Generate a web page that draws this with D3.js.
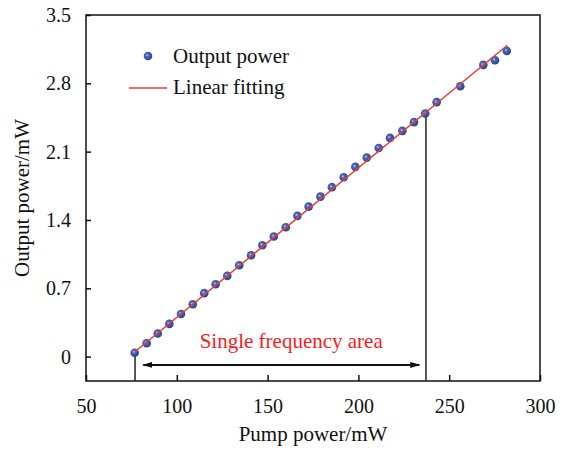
<!DOCTYPE html>
<html>
<head>
<meta charset="utf-8">
<script src="https://cdn.jsdelivr.net/npm/d3@7"></script>
<style>
  body { margin: 0; background: #fff; }
  text { font-family: "Liberation Serif", "Times New Roman", Times, "DejaVu Serif", serif; }
</style>
</head>
<body>
<div id="chartContainer"></div>
<script>
// measured points (pump power in mW, output power in W)
var pumpPower = [76.8, 83.4, 89.5, 95.9, 102.3, 108.8, 115.1, 121.4, 127.8, 134.4, 140.9,
  147.1, 153.4, 160.0, 166.4, 172.6, 179.1, 185.4, 191.9, 198.3, 204.6, 211.2,
  217.4, 224.2, 230.6, 236.8, 243.1, 256.1, 268.8, 275.2, 281.7]
var outputPower = [0.04, 0.137, 0.236, 0.335, 0.437, 0.537, 0.65, 0.742, 0.827, 0.936, 1.039,
  1.141, 1.23, 1.326, 1.442, 1.537, 1.639, 1.736, 1.838, 1.944, 2.039, 2.138,
  2.241, 2.313, 2.402, 2.49, 2.607, 2.77, 2.989, 3.037, 3.132]

// linear fit, end points
var fitPump = [77, 282]
var fitOutput = [0.05, 3.19]

// guide lines and single frequency range
var guidePump = [77, 237.2]
var guideOutput = [0.04, 2.49]
var areaPump = [81.5, 233.5]
var areaOutput = -0.085
var areaLabel = "Single frequency area"

var xTicks = [50, 100, 150, 200, 250, 300]
var yTicks = [0, 0.7, 1.4, 2.1, 2.8, 3.5]
var legendLabels = ["Output power", "Linear fitting"]

var serif = "'Liberation Serif', 'Times New Roman', Times, 'DejaVu Serif', serif"

var margin = {top: 15, right: 29, bottom: 68, left: 86},
  width = 569 - margin.left - margin.right,
  height = 449 - margin.top - margin.bottom;

var svg = d3.select("#chartContainer")
  .append("svg")
  .attr("width", width + margin.left + margin.right)
  .attr("height", height + margin.top + margin.bottom)
  .style("font-family", serif)

var defs = svg.append("defs")
var grad = defs.append("radialGradient")
  .attr("id", "dotFill")
  .attr("cx", "40%").attr("cy", "40%").attr("r", "60%")
grad.append("stop").attr("offset", "0%").attr("stop-color", "#c9d3ee")
grad.append("stop").attr("offset", "30%").attr("stop-color", "#4a68b4")
grad.append("stop").attr("offset", "100%").attr("stop-color", "#27448f")

defs.append("marker")
  .attr("id", "arrow")
  .attr("viewBox", "0 0 10 6")
  .attr("refX", 9).attr("refY", 3)
  .attr("markerWidth", 10).attr("markerHeight", 6)
  .attr("markerUnits", "userSpaceOnUse")
  .attr("orient", "auto-start-reverse")
  .append("path")
  .attr("d", "M0,0L10,3L0,6Z")
  .attr("fill", "#111")

var g = svg.append("g")
  .attr("transform", "translate(" + margin.left + "," + margin.top + ")")

var x = d3.scaleLinear()
  .domain([50, 300])
  .range([0, width])

var y = d3.scaleLinear()
  .domain([-0.25, 3.5])
  .range([height, 0])

// axes, ticks pointing inward
var xAxis = g.append("g")
  .attr("transform", "translate(0," + height + ")")
  .call(d3.axisBottom(x).tickValues(xTicks).tickSize(-6).tickPadding(18).tickFormat(d3.format("d")))
var yAxis = g.append("g")
  .call(d3.axisLeft(y).tickValues(yTicks).tickSize(-5).tickPadding(15).tickFormat(d => d === 0 ? "0" : d3.format(".1f")(d)))

;[xAxis, yAxis].forEach(function(a){
  a.attr("font-family", serif)
  a.select(".domain").remove()
  a.selectAll("line").attr("stroke", "#111").attr("stroke-width", 1.5)
  a.selectAll("text")
    .attr("fill", "#111")
    .style("font-size", "20px")
    .style("font-family", serif)
})

// frame
g.append("rect")
  .attr("width", width)
  .attr("height", height)
  .attr("fill", "none")
  .attr("stroke", "#111")
  .attr("stroke-width", 1.5)

// vertical guides
g.selectAll(".guide")
  .data(guidePump)
  .enter()
  .append("line")
  .attr("class", "guide")
  .attr("x1", d => x(d))
  .attr("x2", d => x(d))
  .attr("y1", (d, i) => y(guideOutput[i]))
  .attr("y2", height)
  .attr("stroke", "#222")
  .attr("stroke-width", 1.5)

// single frequency range arrow
g.append("line")
  .attr("x1", x(areaPump[0]))
  .attr("x2", x(areaPump[1]))
  .attr("y1", y(areaOutput))
  .attr("y2", y(areaOutput))
  .attr("stroke", "#111")
  .attr("stroke-width", 2)
  .attr("marker-start", "url(#arrow)")
  .attr("marker-end", "url(#arrow)")

g.append("text")
  .attr("x", x(d3.mean(areaPump)) + 10)
  .attr("y", y(areaOutput) - 17)
  .attr("text-anchor", "middle")
  .attr("fill", "#ff1a1a")
  .style("font-size", "21px")
  .text(areaLabel)

// points
var pts = pumpPower.map((p, i) => ({p: p, v: outputPower[i]}))
g.selectAll(".dot")
  .data(pts)
  .enter()
  .append("circle")
  .attr("class", "dot")
  .attr("cx", d => x(d.p))
  .attr("cy", d => y(d.v))
  .attr("r", 4.3)
  .attr("fill", "url(#dotFill)")

// fit line
var fit = fitPump.map((p, i) => [p, fitOutput[i]])
g.append("path")
  .datum(fit)
  .attr("d", d3.line().x(d => x(d[0])).y(d => y(d[1])))
  .attr("fill", "none")
  .attr("stroke", "#ec3b3b")
  .attr("stroke-width", 1.5)

// legend
var legend = svg.append("g")
legend.append("circle")
  .attr("cx", 148).attr("cy", 56)
  .attr("r", 4.3)
  .attr("fill", "url(#dotFill)")
legend.append("line")
  .attr("x1", 129).attr("x2", 167)
  .attr("y1", 88).attr("y2", 88)
  .attr("stroke", "#ec3b3b")
  .attr("stroke-width", 1.5)
legend.selectAll(".lab")
  .data(legendLabels)
  .enter()
  .append("text")
  .attr("class", "lab")
  .attr("x", 173)
  .attr("y", (d, i) => 63 + i * 31)
  .attr("fill", "#111")
  .style("font-size", "21px")
  .text(d => d)

// axis titles
svg.append("text")
  .attr("x", margin.left + width / 2)
  .attr("y", 441)
  .attr("text-anchor", "middle")
  .attr("fill", "#111")
  .style("font-size", "21px")
  .text("Pump power/mW")

svg.append("text")
  .attr("transform", "translate(29," + (margin.top + height / 2) + ")rotate(-90)")
  .attr("text-anchor", "middle")
  .attr("fill", "#111")
  .style("font-size", "21px")
  .text("Output power/mW")
</script>
</body>
</html>
